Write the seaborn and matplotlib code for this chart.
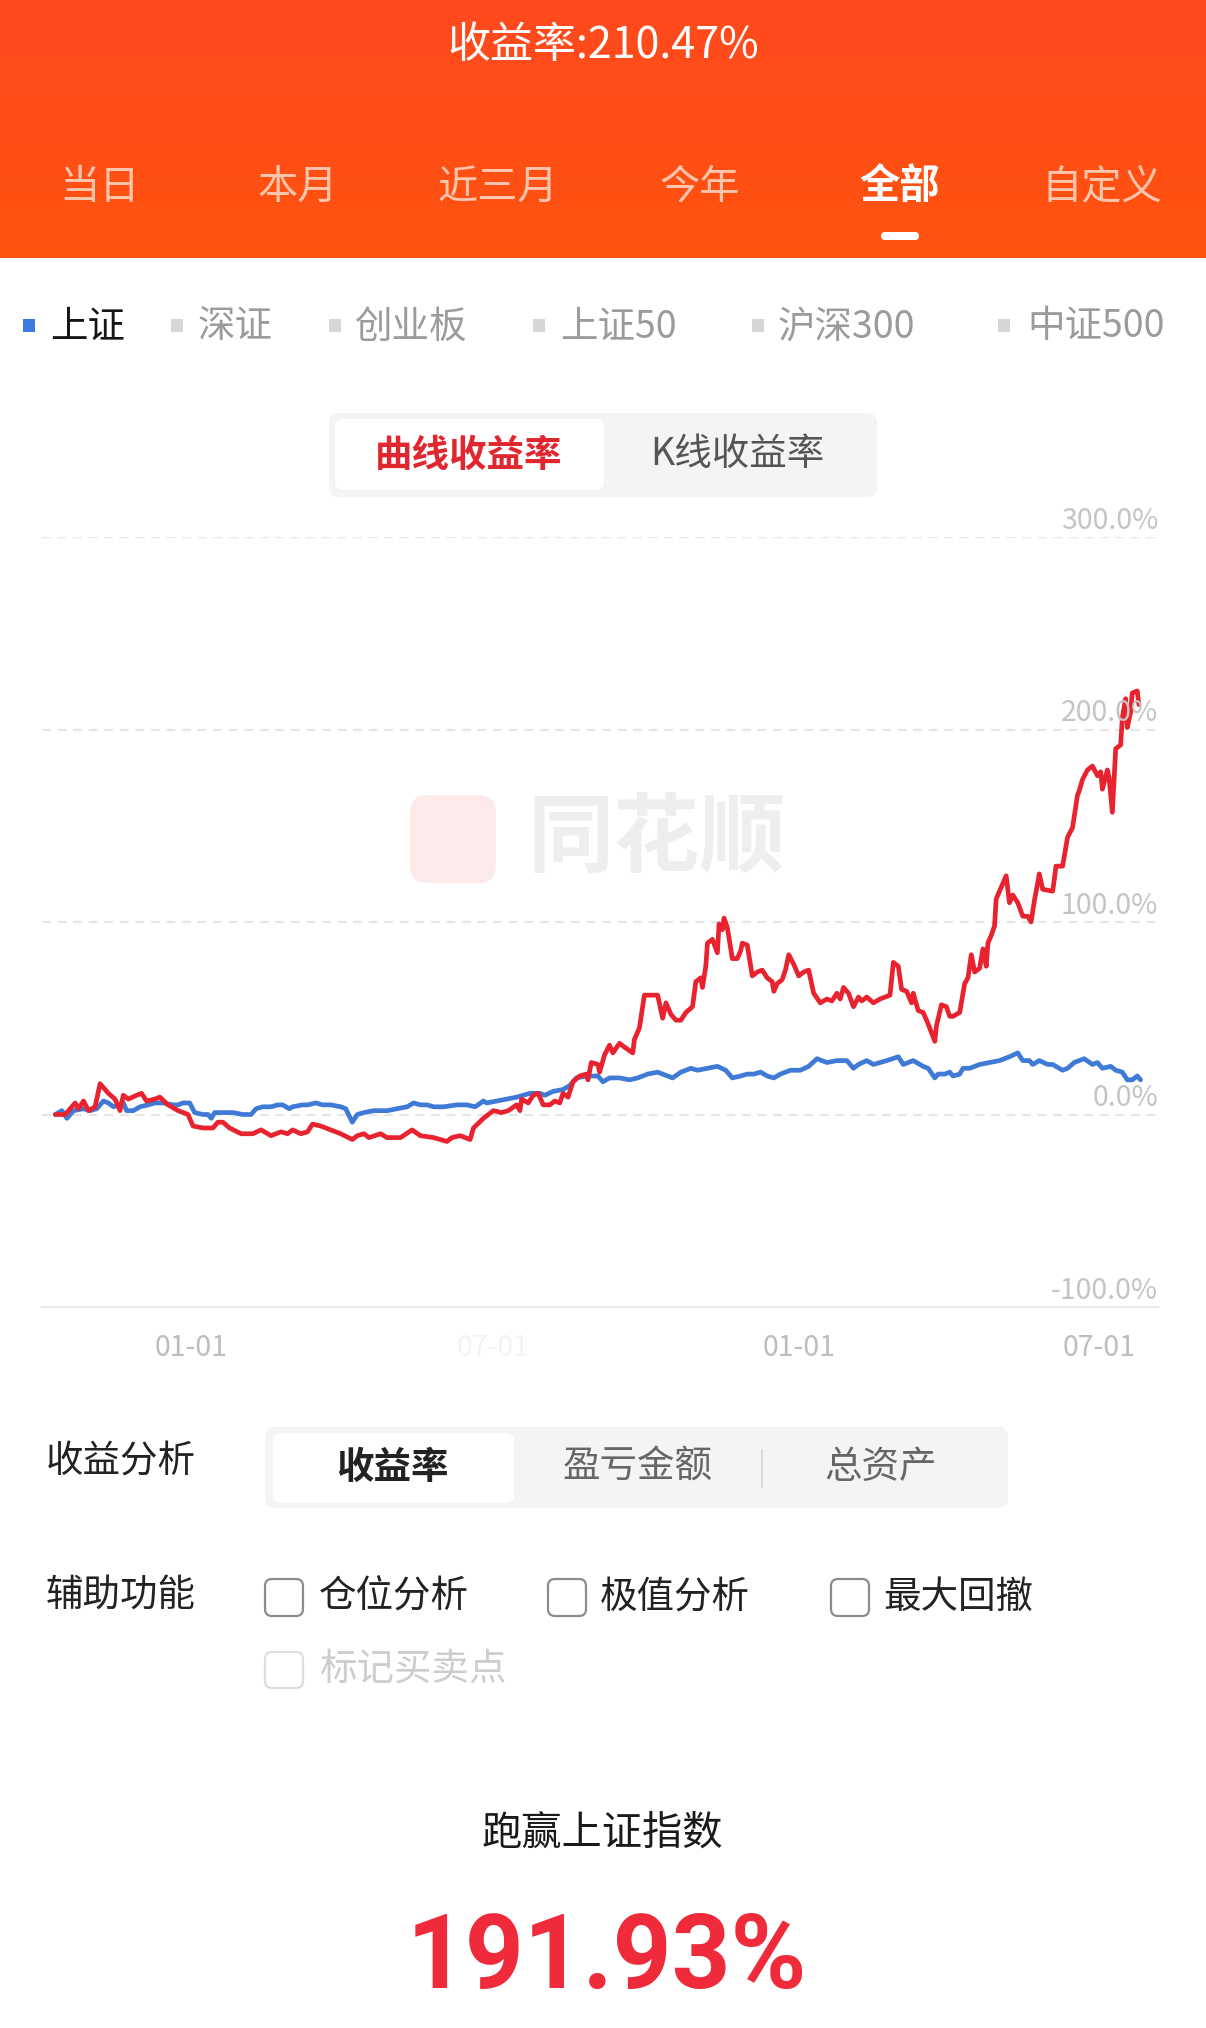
import numpy as np
import pandas as pd
import matplotlib
matplotlib.use("Agg")
import matplotlib.pyplot as plt
import matplotlib.transforms as mtransforms
import seaborn as sns
from matplotlib.patches import FancyBboxPatch, Rectangle

# ---------------- data ----------------
header_title = "收益率:210.47%"
period_tabs = ["当日", "本月", "近三月", "今年", "全部", "自定义"]
active_tab = "全部"
index_tabs = ["上证", "深证", "创业板", "上证50", "沪深300", "中证500"]
active_index = "上证"
mode_tabs = ["曲线收益率", "K线收益率"]
analysis_tabs = ["收益率", "盈亏金额", "总资产"]
aux_options = ["仓位分析", "极值分析", "最大回撤"]
aux_disabled = "标记买卖点"
beat_label = "跑赢上证指数"
beat_value = "191.93%"

y_ticks = [-100, 0, 100, 200, 300]
x_tick_days = [0, 182, 366, 547]          # days since the first 01-01
x_tick_labels = ["01-01", "07-01", "01-01", "07-01"]

# (days since first 01-01, return %)
red_points = [
    (-82, 0), (-76, 0), (-70, 6), (-68, 3), (-65, 7), (-62, 2), (-58, 4), (-55, 16), (-50, 11), (-46, 8),
    (-43, 2), (-41, 10), (-38, 8), (-33, 10), (-30, 11), (-27, 7), (-22, 8), (-19, 9), (-14, 5), (-8, 2),
    (-2, 0), (1, -6), (7, -7), (13, -7), (16, -4), (19, -4), (23, -7), (30, -10), (37, -10), (42, -8),
    (48, -11), (54, -9), (58, -10), (61, -8), (66, -10), (70, -9), (73, -5), (78, -6), (84, -8), (90, -10),
    (97, -13), (100, -11), (104, -10), (107, -12), (114, -10), (118, -12), (126, -12), (133, -8), (138, -11), (146, -12),
    (154, -14), (157, -12), (162, -11), (168, -13), (170, -7), (176, -2), (182, 2), (187, 1), (191, 2), (196, 5),
    (198, 2), (199, 8), (203, 6), (206, 10), (209, 11), (212, 5), (216, 5), (219, 7), (222, 6), (224, 11),
    (227, 9), (230, 17), (234, 20), (238, 21), (239, 18), (241, 27), (245, 26), (246, 22), (249, 31), (252, 36),
    (254, 32), (258, 37), (261, 35), (266, 32), (267, 39), (270, 45), (273, 62), (281, 62), (284, 50), (286, 58),
    (289, 52), (292, 49), (295, 49), (298, 53), (302, 56), (304, 69), (307, 71), (308, 66), (310, 77), (311, 89),
    (314, 91), (317, 84), (318, 99), (320, 96), (321, 102), (323, 97), (326, 81), (329, 81), (331, 85), (332, 89),
    (335, 88), (338, 72), (341, 74), (344, 75), (347, 71), (350, 69), (351, 64), (353, 68), (356, 70), (358, 75),
    (360, 83), (363, 78), (366, 72), (369, 74), (372, 75), (375, 63), (379, 58), (383, 60), (386, 59), (389, 63),
    (391, 60), (393, 66), (396, 63), (399, 56), (402, 61), (404, 59), (407, 61), (411, 58), (415, 60), (421, 62),
    (423, 79), (426, 77), (428, 65), (431, 64), (434, 58), (435, 63), (438, 54), (441, 53), (444, 47), (448, 38),
    (449, 46), (452, 57), (455, 56), (457, 51), (459, 51), (463, 53), (466, 68), (468, 71), (470, 83), (472, 74),
    (475, 76), (477, 86), (479, 77), (480, 89), (482, 93), (484, 98), (485, 112), (491, 124), (493, 110), (495, 114),
    (498, 110), (501, 103), (504, 103), (506, 100), (508, 111), (511, 125), (513, 117), (519, 116), (520, 122), (521, 129),
    (525, 129), (527, 139), (528, 144), (531, 149), (534, 166), (535, 168), (537, 174), (540, 179), (543, 181), (546, 176),
    (548, 178), (549, 169), (552, 179), (553, 175), (555, 157), (557, 190), (560, 192), (561, 206), (563, 216), (564, 201),
    (566, 209), (567, 219), (570, 220), (571, 213),
]

blue_points = [
    (-82, 0), (-78, 2), (-75, -2), (-71, 2), (-65, 3), (-61, 2), (-57, 3), (-53, 7), (-50, 6), (-47, 4),
    (-44, 5), (-41, 6), (-39, 2), (-35, 2), (-31, 4), (-26, 5), (-22, 6), (-17, 6), (-11, 5), (-8, 5),
    (-5, 6), (-1, 6), (2, 1), (7, 0), (10, 0), (12, -2), (14, 1), (20, 1), (25, 1), (31, 0),
    (36, 0), (39, 3), (43, 4), (48, 4), (52, 5), (55, 5), (59, 3), (61, 4), (67, 5), (70, 5),
    (75, 6), (79, 5), (84, 5), (90, 4), (93, 3), (97, -4), (100, 0), (104, 1), (110, 2), (118, 2),
    (124, 3), (130, 4), (134, 6), (138, 5), (142, 5), (146, 4), (152, 4), (160, 5), (166, 5), (171, 4),
    (176, 7), (178, 6), (184, 7), (190, 8), (196, 9), (200, 10), (204, 11), (210, 11), (213, 10), (218, 12),
    (224, 13), (228, 15), (232, 19), (238, 20), (245, 20), (248, 17), (252, 19), (258, 19), (264, 18), (269, 19),
    (275, 21), (281, 22), (287, 20), (290, 19), (295, 22), (301, 24), (305, 23), (311, 24), (317, 25), (322, 23),
    (326, 19), (331, 20), (335, 21), (339, 21), (343, 22), (347, 20), (351, 19), (355, 21), (361, 23), (367, 23),
    (372, 25), (377, 29), (383, 27), (389, 28), (395, 28), (399, 24), (402, 26), (407, 28), (411, 26), (419, 28),
    (426, 30), (429, 26), (435, 28), (441, 25), (444, 24), (448, 19), (450, 21), (454, 21), (457, 22), (459, 20),
    (463, 21), (465, 24), (469, 24), (475, 26), (481, 27), (487, 28), (493, 30), (498, 32), (501, 28), (505, 28),
    (507, 26), (511, 28), (516, 26), (519, 26), (525, 23), (528, 24), (532, 27), (538, 29), (543, 26), (546, 27),
    (549, 24), (554, 25), (557, 23), (561, 22), (564, 18), (567, 18), (570, 20), (572, 18),
]

red_df = pd.DataFrame(red_points, columns=["day", "pct"])
blue_df = pd.DataFrame(blue_points, columns=["day", "pct"])

# ---------------- style ----------------
sns.set_theme(style="white")
CJK = ["Noto Sans CJK SC", "DejaVu Sans"]
plt.rcParams["font.family"] = CJK

W, H = 1206, 2028
fig = plt.figure(figsize=(W / 100, H / 100), dpi=100)
fig.patch.set_facecolor("white")

bg = fig.add_axes([0, 0, 1, 1])
bg.set_xlim(0, W)
bg.set_ylim(H, 0)
bg.axis("off")

def rbox(x, y, w, h, r, fc, ec="none", lw=0, z=1):
    p = FancyBboxPatch((x, y), w, h, boxstyle=f"round,pad=0,rounding_size={r}",
                       fc=fc, ec=ec, lw=lw, zorder=z)
    bg.add_patch(p)

# header gradient
top = np.array([1.0, 0.29, 0.12])
bot = np.array([1.0, 0.325, 0.06])
t = np.linspace(0, 1, 256)[:, None, None]
img = top * (1 - t) + bot * t
bg.imshow(img, extent=[0, W, 258, 0], aspect="auto", zorder=0)
bg.set_xlim(0, W)
bg.set_ylim(H, 0)

bg.text(603, 46, header_title, color="white", fontsize=31, fontweight="medium",
        ha="center", va="center")

tab_x = [100, 298, 498, 700, 900, 1102]
for x, s in zip(tab_x, period_tabs):
    act = s == active_tab
    bg.text(x, 187, s, color="white" if act else "#FDC6AC", fontsize=29,
            fontweight="bold" if act else "normal", ha="center", va="center")
rbox(881, 232, 38, 8, 4, "white", z=2)

# index selector row
sq_x = [23, 171, 329, 533, 752, 998]
lab_x = [50, 198, 355, 560, 778, 1027]
for sx, lx, s in zip(sq_x, lab_x, index_tabs):
    act = s == active_index
    bg.add_patch(Rectangle((sx, 319), 12, 13, fc="#3D7BE0" if act else "#D6D6D6", ec="none"))
    bg.text(lx, 327, s, color="#151515" if act else "#9B9B9B", fontsize=27,
            ha="left", va="center")

# curve / K-line toggle
rbox(329, 413, 548, 84, 10, "#F4F4F4")
rbox(335, 419, 269, 71, 8, "white", z=2)
bg.text(469, 455, mode_tabs[0], color="#E0262F", fontsize=27, fontweight="bold",
        ha="center", va="center", zorder=3)
bg.text(737, 455, mode_tabs[1], color="#555555", fontsize=27, ha="center", va="center", zorder=3)

# watermark
rbox(410, 795, 86, 88, 18, "#FCEAEA")
bg.text(657, 840, "同花顺", color="#EEEEEE", fontsize=62, fontweight="bold",
        ha="center", va="center")

# ---------------- chart ----------------
ax = fig.add_axes([42 / W, 1 - 1307 / H, 1116 / W, 770 / H])
ax.patch.set_alpha(0)
sns.lineplot(data=blue_df, x="day", y="pct", ax=ax, color="#3E7AD6", linewidth=3.4,
             estimator=None, sort=False)
sns.lineplot(data=red_df, x="day", y="pct", ax=ax, color="#E8232F", linewidth=3.4,
             estimator=None, sort=False)
ax.set_xlim(-90, 582.5)
ax.set_ylim(-100, 300)
ax.set_xlabel("")
ax.set_ylabel("")
ax.set_yticks([v for v in y_ticks if v > -100])
ax.tick_params(axis="y", length=0, labelleft=False)
ax.grid(axis="y", color="#E6E6E6", linestyle=(0, (4, 3)), linewidth=1.6)
ax.grid(axis="x", visible=False)
for sp in ["left", "right", "top"]:
    ax.spines[sp].set_visible(False)
ax.spines["bottom"].set_color("#EBEBEB")
ax.spines["bottom"].set_linewidth(1.6)

off = mtransforms.offset_copy(ax.get_yaxis_transform(), fig=fig, x=0, y=6, units="points")
for v in y_ticks:
    ax.text(1.0, v, f"{v:.1f}%", transform=off, ha="right", va="baseline",
            fontsize=20.5, color="#C4C4C4")

ax.set_xticks(x_tick_days)
ax.set_xticklabels(x_tick_labels)
ax.tick_params(axis="x", length=0, pad=19, labelsize=20.5, labelcolor="#BDBDBD")
ax.get_xticklabels()[1].set_color("#F3F3F3")

# ---------------- bottom panel ----------------
bg.text(46, 1462, "收益分析", color="#222222", fontsize=27, ha="left", va="center")
rbox(265, 1427, 743, 81, 10, "#F4F4F4")
rbox(273, 1433, 241, 70, 8, "white", z=2)
seg_x = [392, 638, 881]
for x, s in zip(seg_x, analysis_tabs):
    act = s == analysis_tabs[0]
    bg.text(x, 1467, s, color="#222222" if act else "#666666", fontsize=27,
            fontweight="bold" if act else "normal", ha="center", va="center", zorder=3)
bg.plot([762, 762], [1450, 1487], color="#DADADA", lw=1.5, zorder=3)

bg.text(46, 1595, "辅助功能", color="#222222", fontsize=27, ha="left", va="center")
cb_x = [265, 548, 831]
tx_x = [319, 600, 883]
for cx, tx, s in zip(cb_x, tx_x, aux_options):
    rbox(cx, 1579, 38, 37, 7, "white", ec="#8C8C8C", lw=1.6)
    bg.text(tx, 1597, s, color="#222222", fontsize=27, ha="left", va="center")
rbox(265, 1652, 38, 36, 7, "white", ec="#DEDEDE", lw=1.6)
bg.text(319, 1669, aux_disabled, color="#CDCDCD", fontsize=27, ha="left", va="center")

bg.text(602, 1833, beat_label, color="#1A1A1A", fontsize=29, ha="center", va="center")
bg.text(607, 1988, beat_value, color="#EF2A3B", fontsize=74, fontweight="bold",
        family=["Roboto", "DejaVu Sans"], ha="center", va="baseline")

fig.savefig("out.png", dpi=100, facecolor="white")
